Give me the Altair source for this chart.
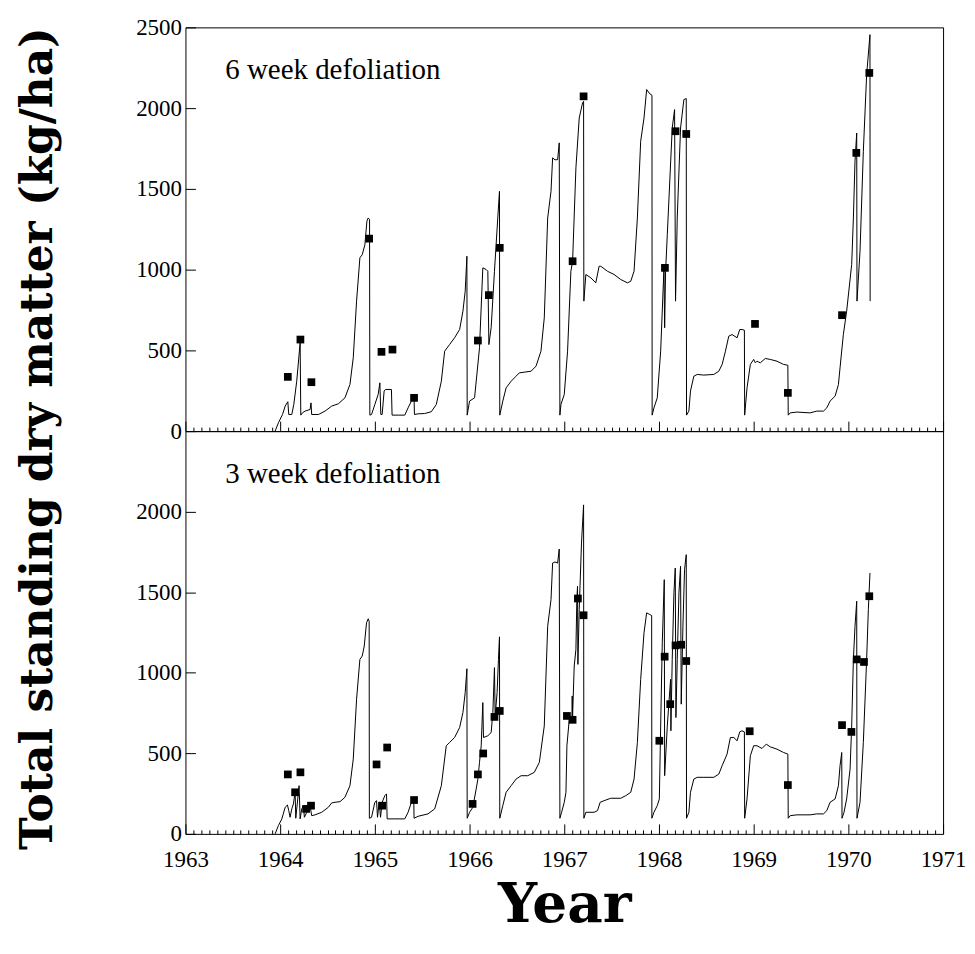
import altair as alt
import pandas as pd

# ---------------- data ----------------
# 6 week defoliation: simulated total standing dry matter (line)
top_line_year = [1963.947, 1963.982, 1964.025, 1964.053, 1964.081, 1964.091, 1964.123, 1964.144, 1964.175, 1964.211,
                 1964.218, 1964.235, 1964.263, 1964.316, 1964.326, 1964.333, 1964.404, 1964.474, 1964.544, 1964.614,
                 1964.684, 1964.737, 1964.772, 1964.807, 1964.842, 1964.867, 1964.895, 1964.916, 1964.930, 1964.944,
                 1964.947, 1964.965, 1965.000, 1965.035, 1965.053, 1965.063, 1965.077, 1965.098, 1965.112, 1965.175,
                 1965.182, 1965.246, 1965.316, 1965.351, 1965.386, 1965.414, 1965.418, 1965.456, 1965.526, 1965.596,
                 1965.649, 1965.702, 1965.737, 1965.789, 1965.842, 1965.895, 1965.930, 1965.954, 1965.972, 1965.975,
                 1966.000, 1966.053, 1966.105, 1966.140, 1966.175, 1966.193, 1966.204, 1966.228, 1966.263, 1966.298,
                 1966.316, 1966.319, 1966.351, 1966.386, 1966.439, 1966.491, 1966.526, 1966.579, 1966.649, 1966.702,
                 1966.754, 1966.789, 1966.825, 1966.860, 1966.877, 1966.902, 1966.930, 1966.947, 1966.954, 1966.965,
                 1967.000, 1967.035, 1967.070, 1967.088, 1967.123, 1967.158, 1967.193, 1967.204, 1967.207, 1967.228,
                 1967.281, 1967.333, 1967.368, 1967.386, 1967.456, 1967.526, 1967.596, 1967.667, 1967.702, 1967.737,
                 1967.772, 1967.807, 1967.842, 1967.870, 1967.905, 1967.926, 1967.928, 1967.947, 1967.982, 1968.018,
                 1968.053, 1968.060, 1968.070, 1968.088, 1968.140, 1968.165, 1968.175, 1968.193, 1968.228, 1968.263,
                 1968.288, 1968.291, 1968.316, 1968.333, 1968.368, 1968.404, 1968.474, 1968.579, 1968.632, 1968.667,
                 1968.702, 1968.737, 1968.772, 1968.825, 1968.853, 1968.877, 1968.902, 1968.905, 1968.930, 1968.965,
                 1969.000, 1969.018, 1969.035, 1969.070, 1969.123, 1969.175, 1969.246, 1969.316, 1969.361, 1969.365,
                 1969.386, 1969.456, 1969.596, 1969.667, 1969.737, 1969.772, 1969.807, 1969.860, 1969.895, 1969.912,
                 1969.947, 1969.982, 1970.035, 1970.053, 1970.070, 1970.088, 1970.091, 1970.123, 1970.158, 1970.193,
                 1970.228, 1970.230]
top_line_value = [0, 52, 103, 155, 182, 103, 103, 165, 309, 547,
                  99, 113, 124, 134, 175, 103, 103, 124, 155, 169,
                  206, 289, 454, 805, 1073, 1093, 1155, 1300, 1320, 1310,
                  99, 103, 165, 227, 299, 103, 103, 248, 258, 258,
                  99, 99, 99, 144, 186, 206, 103, 107, 109, 120,
                  165, 309, 495, 536, 578, 629, 743, 866, 1083, 99,
                  186, 206, 516, 1011, 1001, 990, 536, 640, 990, 1320,
                  1485, 99, 186, 268, 309, 340, 361, 365, 371, 402,
                  495, 701, 1320, 1485, 1692, 1680, 1681, 1785, 99, 165,
                  227, 495, 990, 1052, 1630, 1939, 2032, 2042, 805, 970,
                  949, 918, 1021, 1021, 990, 970, 939, 918, 928, 990,
                  1320, 1795, 1939, 2115, 2088, 2080, 99, 144, 206, 495,
                  1011, 640, 990, 1217, 1877, 1991, 805, 1320, 1877, 2053,
                  2059, 99, 124, 248, 340, 351, 347, 351, 371, 413,
                  495, 588, 598, 578, 629, 629, 625, 99, 268, 413,
                  444, 423, 433, 423, 450, 444, 433, 413, 408, 99,
                  113, 118, 113, 124, 124, 144, 186, 217, 289, 392,
                  598, 743, 1032, 1320, 1671, 1846, 805, 1114, 1733, 2207,
                  2455, 805]
# 6 week defoliation: observed values (squares)
top_obs_year = [1964.081, 1964.214, 1964.330, 1964.940, 1965.070, 1965.186, 1965.414, 1966.088, 1966.204, 1966.319,
                1967.088, 1967.204, 1968.063, 1968.175, 1968.288, 1969.014, 1969.361, 1969.933, 1970.084, 1970.221]
top_obs_value = [336, 567, 303, 1192, 491, 505, 206, 561, 842, 1135,
                 1052, 2073, 1011, 1857, 1840, 664, 237, 718, 1723, 2218]

# 3 week defoliation: simulated (line)
bot_line_year = [1963.947, 1963.982, 1964.018, 1964.053, 1964.077, 1964.091, 1964.105, 1964.123, 1964.140, 1964.158,
                 1964.165, 1964.186, 1964.200, 1964.211, 1964.228, 1964.246, 1964.256, 1964.281, 1964.316, 1964.333,
                 1964.368, 1964.439, 1964.509, 1964.544, 1964.579, 1964.632, 1964.684, 1964.737, 1964.772, 1964.807,
                 1964.842, 1964.867, 1964.888, 1964.912, 1964.930, 1964.940, 1964.942, 1964.965, 1965.000, 1965.018,
                 1965.028, 1965.046, 1965.060, 1965.077, 1965.105, 1965.123, 1965.130, 1965.211, 1965.316, 1965.351,
                 1965.386, 1965.411, 1965.414, 1965.456, 1965.561, 1965.632, 1965.702, 1965.754, 1965.789, 1965.842,
                 1965.895, 1965.930, 1965.954, 1965.972, 1965.975, 1966.000, 1966.035, 1966.070, 1966.088, 1966.105,
                 1966.123, 1966.140, 1966.147, 1966.193, 1966.228, 1966.246, 1966.263, 1966.270, 1966.291, 1966.305,
                 1966.316, 1966.319, 1966.351, 1966.386, 1966.439, 1966.491, 1966.544, 1966.614, 1966.684, 1966.737,
                 1966.789, 1966.825, 1966.860, 1966.877, 1966.902, 1966.930, 1966.947, 1966.954, 1966.972, 1967.000,
                 1967.018, 1967.028, 1967.053, 1967.081, 1967.084, 1967.088, 1967.105, 1967.123, 1967.133, 1967.140,
                 1967.144, 1967.158, 1967.182, 1967.204, 1967.207, 1967.228, 1967.316, 1967.351, 1967.379, 1967.421,
                 1967.491, 1967.596, 1967.649, 1967.702, 1967.737, 1967.772, 1967.807, 1967.842, 1967.870, 1967.902,
                 1967.923, 1967.925, 1967.947, 1967.982, 1968.004, 1968.018, 1968.035, 1968.056, 1968.060, 1968.088,
                 1968.105, 1968.123, 1968.126, 1968.140, 1968.158, 1968.172, 1968.179, 1968.193, 1968.211, 1968.228,
                 1968.235, 1968.253, 1968.270, 1968.288, 1968.291, 1968.316, 1968.333, 1968.368, 1968.404, 1968.474,
                 1968.579, 1968.632, 1968.667, 1968.719, 1968.754, 1968.790, 1968.825, 1968.853, 1968.877, 1968.902,
                 1968.905, 1968.930, 1968.965, 1969.000, 1969.035, 1969.088, 1969.133, 1969.175, 1969.246, 1969.316,
                 1969.361, 1969.365, 1969.386, 1969.456, 1969.596, 1969.667, 1969.737, 1969.772, 1969.807, 1969.860,
                 1969.895, 1969.912, 1969.930, 1969.933, 1969.954, 1969.982, 1970.018, 1970.035, 1970.053, 1970.070,
                 1970.088, 1970.091, 1970.123, 1970.158, 1970.193, 1970.211, 1970.228]
bot_line_value = [0, 52, 93, 165, 179, 144, 103, 155, 186, 258,
                  97, 217, 299, 93, 155, 175, 103, 134, 175, 113,
                  118, 134, 165, 192, 196, 200, 227, 299, 464, 836,
                  1083, 1104, 1166, 1310, 1335, 1320, 97, 103, 196, 206,
                  103, 196, 103, 196, 237, 248, 93, 93, 93, 134,
                  196, 217, 97, 109, 124, 155, 299, 547, 567, 598,
                  660, 753, 877, 1025, 97, 134, 165, 279, 340, 444,
                  547, 815, 598, 609, 629, 753, 1032, 732, 877, 1083,
                  1223, 97, 175, 258, 299, 340, 361, 361, 382, 444,
                  670, 1289, 1454, 1681, 1688, 1681, 1768, 97, 134, 196,
                  258, 547, 712, 732, 856, 732, 1042, 1145, 1454, 1537,
                  1052, 1393, 1805, 2042, 97, 134, 134, 144, 196, 206,
                  221, 221, 237, 258, 340, 567, 959, 1248, 1372, 1362,
                  1355, 97, 134, 175, 217, 670, 1186, 1578, 361, 670,
                  815, 959, 640, 1083, 1496, 1650, 722, 1083, 1496, 1661,
                  805, 1289, 1640, 1733, 97, 134, 258, 340, 351, 351,
                  351, 371, 423, 495, 598, 598, 578, 633, 640, 633,
                  97, 217, 485, 547, 547, 530, 557, 540, 526, 505,
                  495, 97, 113, 118, 118, 124, 124, 144, 196, 217,
                  299, 423, 505, 97, 134, 217, 402, 670, 1083, 1289,
                  1444, 97, 196, 567, 1083, 1393, 1619]
# 3 week defoliation: observed (squares)
bot_obs_year = [1964.081, 1964.214, 1964.158, 1964.274, 1964.326, 1965.018, 1965.130, 1965.077, 1965.414, 1966.032,
                1966.088, 1966.144, 1966.263, 1966.319, 1967.028, 1967.088, 1967.144, 1967.204, 1968.004, 1968.060,
                1968.119, 1968.175, 1968.235, 1968.288, 1968.958, 1969.361, 1969.933, 1970.032, 1970.088, 1970.165,
                1970.221]
bot_obs_value = [369, 382, 258, 155, 175, 431, 536, 175, 210, 186,
                 369, 499, 726, 763, 732, 708, 1461, 1357, 578, 1100,
                 805, 1170, 1174, 1073, 637, 303, 675, 633, 1083, 1067,
                 1475]

panel_labels = ["6 week defoliation", "3 week defoliation"]
y_title = "Total standing dry matter (kg/ha)"
x_title = "Year"
years = list(range(1963, 1972))

# tick positions: long ticks at years, short ticks at months
month_ticks = [round(y + m / 12, 6) for y in years[:-1] for m in range(1, 12)]

FONT = "Liberation Serif"
TITLE_FONT = "DejaVu Serif"
W = 760
H_TOP = 405
H_BOT = 404
MAJOR = 10
MINOR = 4
LABEL_SIZE = 23


def minor_axis():
    return alt.Axis(orient="bottom", values=month_ticks, grid=False, domain=False, offset=-MINOR,
                    tickSize=MINOR, tickColor="black", tickWidth=1, labels=False, title=None, zindex=1)


def major_axis(show_labels):
    kw = dict(orient="bottom", values=years, grid=False, domain=False, offset=-MAJOR, tickSize=MAJOR,
              tickColor="black", tickWidth=1, zindex=1)
    if show_labels:
        kw.update(labels=True, format="d", labelFont=FONT, labelFontSize=LABEL_SIZE, labelColor="black",
                  labelPadding=15, labelFlush=False, labelOverlap=False,
                  title=x_title, titleFont=TITLE_FONT, titleFontSize=55, titleFontWeight="bold",
                  titleColor="black", titleBaseline="alphabetic", titleY=98)
    else:
        kw.update(labels=False, title=None)
    return alt.Axis(**kw)


def y_axis(values, with_title):
    kw = dict(
        values=values, grid=False, domain=False, offset=-MAJOR, tickSize=MAJOR,
        tickColor="black", tickWidth=1, format="d", zindex=1,
        labelFont=FONT, labelFontSize=LABEL_SIZE, labelColor="black", labelPadding=4,
        labelFlush=False, labelOverlap=False,
    )
    if with_title:
        kw.update(title=y_title, titleFont=TITLE_FONT, titleFontSize=44, titleFontWeight="bold",
                  titleColor="black", titleAngle=-90, titleAlign="center", titleBaseline="middle",
                  titleX=-157, titleY=412)
    else:
        kw.update(title=None)
    return alt.Axis(**kw)


def panel(line_year, line_value, obs_year, obs_value, label, height, yvals, show_x, with_title):
    line_df = pd.DataFrame({"year": line_year, "dm": line_value, "i": range(len(line_year))})
    obs_df = pd.DataFrame({"year": obs_year, "dm": obs_value})
    xs = alt.Scale(domain=[1963, 1971], nice=False, zero=False)
    ys = alt.Scale(domain=[0, 2500], nice=False)
    line = alt.Chart(line_df).mark_line(color="black", strokeWidth=1, strokeJoin="bevel").encode(
        x=alt.X("year:Q", scale=xs, axis=minor_axis()),
        y=alt.Y("dm:Q", scale=ys, axis=y_axis(yvals, with_title)),
        order="i:Q",
    )
    pts = alt.Chart(obs_df).mark_square(color="black", size=60, opacity=1).encode(
        x=alt.X("year:Q", scale=xs, axis=major_axis(show_x)),
        y=alt.Y("dm:Q", scale=ys),
    )
    txt = alt.Chart(pd.DataFrame({"t": [label]})).mark_text(
        font=FONT, fontSize=29, color="black", align="left", baseline="middle"
    ).encode(text="t:N", x=alt.value(40), y=alt.value(43))
    return alt.layer(line, pts, txt).resolve_axis(x="independent").properties(width=W, height=height)


top = panel(top_line_year, top_line_value, top_obs_year, top_obs_value, panel_labels[0], H_TOP,
            [0, 500, 1000, 1500, 2000, 2500], False, True)
bot = panel(bot_line_year, bot_line_value, bot_obs_year, bot_obs_value, panel_labels[1], H_BOT,
            [0, 500, 1000, 1500, 2000], True, False)

chart = alt.vconcat(top, bot, spacing=0, bounds="flush").resolve_scale(
    x="independent", y="independent"
).properties(
    padding={"left": 8, "top": 6, "right": 0, "bottom": 0},
    background="white",
).configure_view(stroke="black", strokeWidth=1)

chart.save("out.html", embed_options={"renderer": "svg", "actions": False})
